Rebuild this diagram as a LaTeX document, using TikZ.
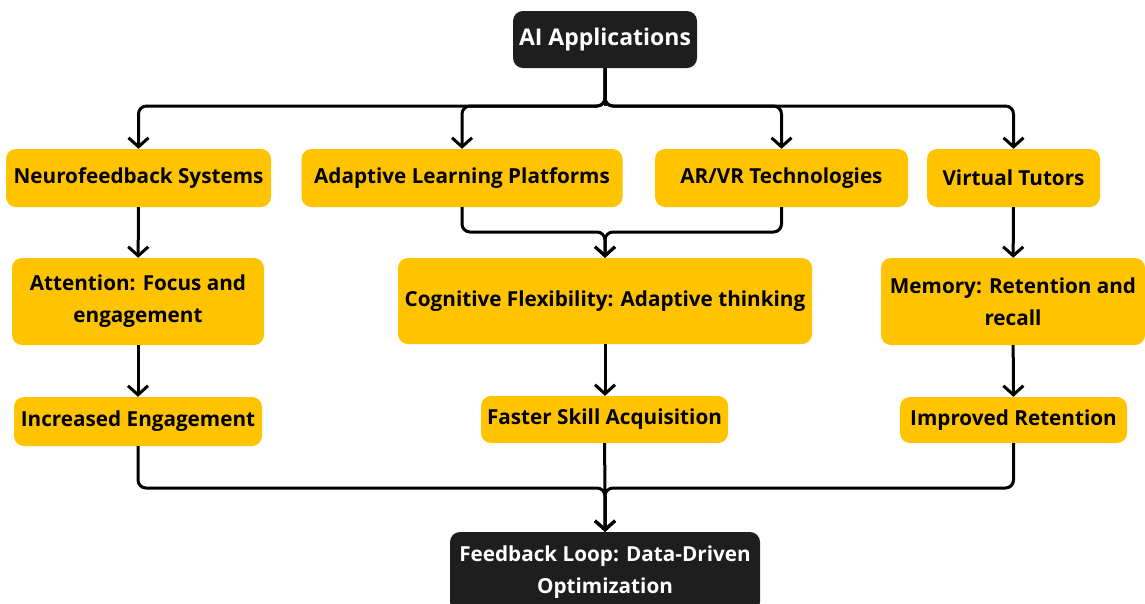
\documentclass[tikz,border=0pt]{standalone}
\usepackage{fontspec}
\setmainfont{Open Sans}
\usetikzlibrary{arrows.meta}

\definecolor{boxYellow}{RGB}{255,195,0}
\definecolor{boxDark}{RGB}{30,30,30}

\tikzset{
  ybox/.style={fill=boxYellow,rounded corners=10pt,inner sep=0pt,align=center,
    font=\bfseries\fontsize{20.7}{32}\selectfont,text=black},
  dbox/.style={ybox,fill=boxDark,text=white},
  link/.style={draw=black,line width=3pt,rounded corners=8pt,
    -{Straight Barb[length=9pt,width=20pt,line width=3pt]}},
  wire/.style={draw=black,line width=3pt,rounded corners=8pt}
}

\begin{document}
\begin{tikzpicture}[x=1pt,y=-1pt]
\path[use as bounding box,fill=white] (0,0) rectangle (1145,603);

% top and bottom
\node[dbox,minimum width=184pt,minimum height=57pt,font=\bfseries\fontsize{23}{32}\selectfont] (apps) at (605,39.5) {AI Applications};
\node[dbox,minimum width=310pt,minimum height=80pt] (loop) at (605,572) {Feedback Loop: Data-Driven\\Optimization};

% first row
\node[ybox,minimum width=265pt,minimum height=58pt] (neuro) at (138.5,178) {Neurofeedback Systems};
\node[ybox,minimum width=321pt,minimum height=58pt] (adapt) at (462,178) {Adaptive Learning Platforms};
\node[ybox,minimum width=253pt,minimum height=58pt] (arvr) at (781.5,178) {AR/VR Technologies};
\node[ybox,minimum width=173pt,minimum height=58pt] (tutor) at (1013.5,178) {Virtual Tutors};

% second row
\node[ybox,minimum width=252pt,minimum height=87pt] (attn) at (138,301.5) {Attention: Focus and\\engagement};
\node[ybox,minimum width=414pt,minimum height=86pt] (cogn) at (605,301) {Cognitive Flexibility: Adaptive thinking};
\node[ybox,minimum width=264pt,minimum height=87pt] (memo) at (1013,301.5) {Memory: Retention and\\recall};

% third row
\node[ybox,minimum width=248pt,minimum height=49pt] (engage) at (138,421.5) {Increased Engagement};
\node[ybox,minimum width=247pt,minimum height=47pt] (skill) at (604.5,419.5) {Faster Skill Acquisition};
\node[ybox,minimum width=227pt,minimum height=46pt] (retain) at (1013.5,420) {Improved Retention};

\coordinate (split) at (605,106);
\coordinate (merge) at (605,232);
\coordinate (join) at (605,488);

\draw[wire] (apps.south) -- (split);
\draw[link] (apps.south) -- (split) -| (neuro.north);
\draw[link] (apps.south) -- (split) -| (adapt.north);
\draw[link] (apps.south) -- (split) -| (arvr.north);
\draw[link] (apps.south) -- (split) -| (tutor.north);

\draw[link] (neuro) -- (attn);
\draw[link] (tutor) -- (memo);
\draw[link] (adapt.south) |- (merge) -- (cogn.north);
\draw[link] (arvr.south) |- (merge) -- (cogn.north);

\draw[link] (attn) -- (engage);
\draw[link] (cogn.south) -- (cogn.south |- skill.north);
\draw[link] (memo) -- (retain);

\draw[link] (engage.south) |- (join) -- (loop.north);
\draw[link] (retain.south) |- (join) -- (loop.north);
\draw[link] (skill.south) -- (join) -- (loop.north);
\end{tikzpicture}
\end{document}
